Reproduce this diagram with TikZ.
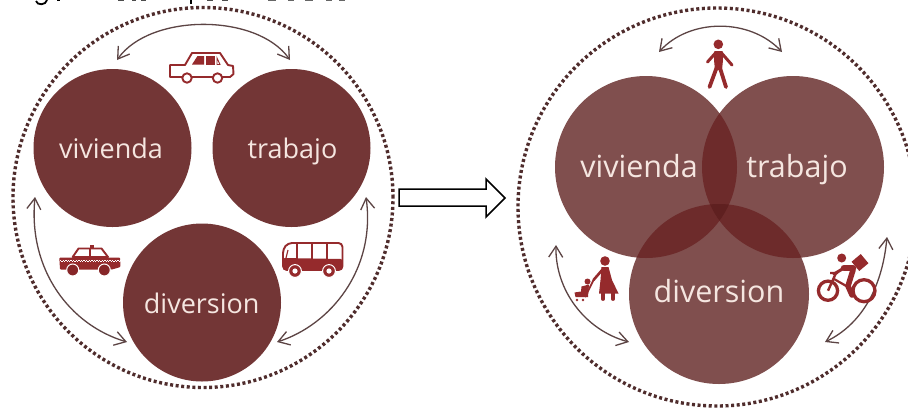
\documentclass[tikz,border=0pt]{standalone}
\usepackage{fontspec}
\setmainfont{Open Sans}
\usetikzlibrary{arrows.meta}
\definecolor{solidc}{HTML}{733636}
\definecolor{softc}{HTML}{804F4E}
\definecolor{overc}{HTML}{6D2B2B}
\definecolor{triplec}{HTML}{5F2020}
\definecolor{dotc}{HTML}{4F2C2C}
\definecolor{linec}{HTML}{5C4444}
\definecolor{iconc}{HTML}{952A2C}
\definecolor{textc}{HTML}{F5E6E0}
\tikzset{
  x=1pt,y=-1pt,
  dotring/.style={draw=dotc,line width=3.4pt,dash pattern=on 3pt off 2.6pt},
  disc/.style={circle,inner sep=0pt,outer sep=0pt,fill=#1},
  lab/.style={anchor=base,text=textc,inner sep=0pt},
  swing/.style={draw=linec,line width=1.3pt,{Straight Barb[length=11pt,width=14pt]}-{Straight Barb[length=11pt,width=14pt]}},
  icon/.style={fill=iconc},
  iconline/.style={draw=iconc,line width=1.9pt,line join=round},
  limb/.style={draw=iconc,line width=3.8pt,line cap=round,line join=round},
}
\begin{document}
\begin{tikzpicture}
\clip (0,0) rectangle (908,408);
\fill[white] (0,0) rectangle (908,408);

% clipped remains of the caption line
\draw[black,line width=1.8pt] (36,1) .. controls (37,5.5) and (46,5.5) .. (47,0);
\draw[black,line width=1.4pt] (57,0) -- (60,0);
\draw[black!70,line width=1.2pt] (118,0) -- (124,0) (132,0) -- (136,0) (141,0) -- (146,0);
\draw[black,line width=1.8pt] (191,0) -- (191,4);
\draw[black!70,line width=1.2pt] (207,0) -- (213,0) (222,0) -- (228,0);
\draw[black!60,line width=1.2pt] (268,0) -- (276,0) (288,0) -- (294,0) (305,0) -- (313,0) (326,0) -- (332,0) (339,0) -- (345,0);

% ---------- left diagram ----------
\node[circle,minimum size=380pt,inner sep=0pt,dotring] (ringL) at (203,197.5) {};
\node[disc=solidc,minimum size=158pt] (vivL) at (112.5,148) {};
\node[disc=solidc,minimum size=158pt] (traL) at (291.5,148) {};
\node[disc=solidc,minimum size=158pt] (divL) at (202,302.5) {};
\node[lab,font=\fontsize{27}{30}\selectfont] (vivLt) at (111,158) {vivienda};
\node[lab,font=\fontsize{27}{30}\selectfont] (traLt) at (292.5,158) {trabajo};
\node[lab,font=\fontsize{27}{30}\selectfont] (divLt) at (201.7,313) {diversion};

\coordinate (a1) at (117,60);  \coordinate (a2) at (290,60);
\coordinate (a3) at (35,197);  \coordinate (a4) at (127,342);
\coordinate (a5) at (366,197); \coordinate (a6) at (277,342);
\draw[swing] (a1) .. controls (150,13) and (257,13) .. (a2);
\draw[swing] (a3) .. controls (28,270) and (70,325) .. (a4);
\draw[swing] (a5) .. controls (376,270) and (330,325) .. (a6);

% car
\draw[iconline,fill=white] (170,65) -- (185,65) -- (192,53) -- (220,53) -- (228,65) -- (233,66) -- (233.5,74) -- (230,77) -- (170,77) -- cycle;
\fill[icon] (192,64.5) -- (197.5,56) -- (204,56) -- (204,64.5) -- cycle;
\fill[icon] (206,56) -- (215,56) -- (215,64.5) -- (206,64.5) -- cycle;
\draw[iconc,line width=.9pt] (217,58) -- (220,64.5) -- (217,64.5) -- cycle;
\draw[iconline,fill=white] (187,78) circle [radius=4.7];
\draw[iconline,fill=white] (217.5,78) circle [radius=4.7];

% taxi
\fill[icon,rounded corners=1pt] (59.3,257.5) -- (120,257.5) -- (120.5,267) -- (112,269.5) -- (60,269.5) -- cycle;
\draw[iconline,fill=white] (72.7,257) -- (78.5,248.5) -- (101.5,248.5) -- (108,257) -- cycle;
\draw[iconc,line width=1.6pt] (90,248.5) -- (90,257);
\fill[icon] (90,244.5) rectangle (94,248.5);
\draw[white,line width=1pt,dash pattern=on 1.3pt off 1.3pt] (60,260.3) -- (120,260.3);
\draw[white,line width=1pt,dash pattern=on 1.3pt off 1.3pt,dash phase=1.3pt] (60,261.6) -- (120,261.6);
\draw[white,line width=1pt,fill=iconc!90!black] (72.7,270) circle [radius=6];
\draw[white,line width=1pt,fill=iconc!90!black] (104.3,270) circle [radius=6];

% bus
\draw[iconline,rounded corners=4pt,fill=white] (283,270) -- (283,249) -- (288,243) -- (342.5,243) -- (342.5,270) -- cycle;
\fill[icon,rounded corners=2pt] (283,258) -- (342.5,259) -- (342.5,270) -- (283,270) -- cycle;
\draw[iconc,line width=1.6pt] (296.7,243) -- (296.7,259) (311.7,243) -- (311.7,259) (326.7,243) -- (326.7,259);
\draw[iconc,line width=1.2pt] (286,258) -- (288,250);
\draw[white,line width=1pt,fill=iconc] (295,271) circle [radius=6.4];
\fill[white] (295,271) circle [radius=2.6];
\draw[white,line width=1pt,fill=iconc] (329,271) circle [radius=6.4];
\fill[white] (329,271) circle [radius=2.6];

% block arrow between the diagrams
\draw[black,line width=1.5pt,fill=white,line join=miter] (399,189) -- (486,189) -- (486,179) -- (505,198) -- (486,217) -- (486,206) -- (399,206) -- cycle;

% ---------- right diagram ----------
\node[circle,minimum size=398pt,inner sep=0pt,dotring] (ringR) at (717,207) {};
\node[disc=softc,minimum size=182pt] (vivR) at (646,167) {};
\node[disc=softc,minimum size=182pt] (traR) at (793,167) {};
\node[disc=softc,minimum size=180pt] (divR) at (719,294) {};
\begin{scope}
  \clip (646,167) circle [radius=91];
  \fill[overc] (793,167) circle [radius=91];
  \fill[overc] (719,294) circle [radius=90];
\end{scope}
\begin{scope}
  \clip (793,167) circle [radius=91];
  \fill[overc] (719,294) circle [radius=90];
\end{scope}
\begin{scope}
  \clip (646,167) circle [radius=91];
  \clip (793,167) circle [radius=91];
  \fill[triplec] (719,294) circle [radius=90];
\end{scope}
\node[lab,font=\fontsize{30.5}{33}\selectfont] (vivRt) at (639,177) {vivienda};
\node[lab,font=\fontsize{30.5}{33}\selectfont] (traRt) at (797,177) {trabajo};
\node[lab,font=\fontsize{30.5}{33}\selectfont] (divRt) at (719,302) {diversion};

\coordinate (b1) at (659,52);  \coordinate (b2) at (782,52);
\coordinate (b3) at (556,245); \coordinate (b4) at (629,342);
\coordinate (b5) at (887,237); \coordinate (b6) at (825,342);
\draw[swing] (b1) .. controls (690,18) and (750,18) .. (b2);
\draw[swing] (b3) .. controls (555,290) and (585,330) .. (b4);
\draw[swing] (b5) .. controls (882,290) and (860,325) .. (b6);

% walking person
\fill[icon] (718.3,44.3) circle [radius=4.8];
\fill[icon] (714.5,51) -- (722.5,51) -- (723,60) -- (722,70) -- (715,70) -- (714,60) -- cycle;
\draw[limb,line width=3pt] (715.5,53) -- (707.5,62);
\draw[limb,line width=3pt] (721.5,53) -- (732,65);
\draw[limb] (716.5,68) -- (709.5,87);
\draw[limb] (720,68) -- (726,87);

% woman with pushchair
\fill[icon] (605,261) circle [radius=4.8];
\fill[icon] (601.5,267) -- (608.5,267) -- (612,280) -- (618.5,293.5) -- (599,293.5) -- (600.5,280) -- cycle;
\draw[limb,line width=2.6pt] (603,269) -- (593.5,280);
\draw[limb] (603,293) -- (603,299);
\draw[limb] (613,293) -- (613,299);
\fill[icon] (587.5,281.5) circle [radius=3];
\draw[iconc,line width=1.8pt,line join=round] (593.5,280) -- (585,297);
\fill[icon] (581.5,286.5) -- (589,284.5) -- (588,297) -- (575.5,297) -- (574.5,292.5) -- (581,291.5) -- cycle;
\fill[icon] (577,300) circle [radius=1.3];
\fill[icon] (583,300) circle [radius=1.3];

% cyclist
\draw[iconc,line width=3.3pt] (828,290.7) circle [radius=9.6];
\draw[iconc,line width=3.3pt] (864,290.7) circle [radius=11];
\fill[icon] (841.7,258) circle [radius=4.5];
\fill[icon,rotate around={40:(860,262.5)}] (854,256.5) rectangle (866,268.5);
\draw[limb,line width=6.5pt] (853,268) -- (844,268);
\draw[limb,line width=3pt] (844,268) -- (834,274);
\draw[limb,line width=5.5pt] (853,270) -- (848,286) -- (852,295);
\draw[iconc,line width=2.4pt] (828,290.7) -- (836,273) (830,273) -- (838,273);
\draw[iconc,line width=2.2pt] (834,279) -- (848,287);
\end{tikzpicture}
\end{document}
